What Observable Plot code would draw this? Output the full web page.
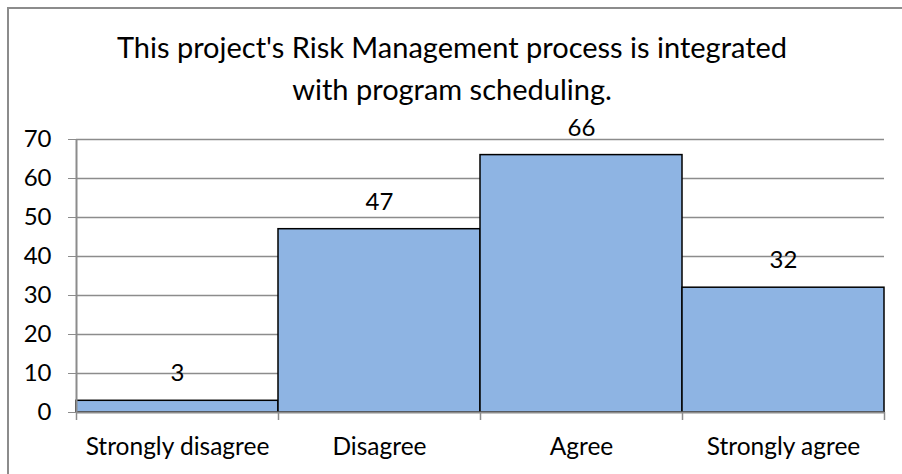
<!DOCTYPE html>
<html><head><meta charset="utf-8">
<script src="https://cdn.jsdelivr.net/npm/d3@7"></script>
<script src="https://cdn.jsdelivr.net/npm/@observablehq/plot@0.6"></script>
<style>
body{margin:0;background:#fff;}
#wrap{position:relative;width:902px;height:474px;overflow:hidden;font-family:Lato,sans-serif;}
#chart{position:absolute;left:0;top:0;}
#border{position:absolute;left:7px;top:7px;width:1000px;height:1000px;border-top:2px solid #8c8c8c;border-left:2px solid #8c8c8c;pointer-events:none;}
#title{position:absolute;left:7px;width:890px;top:26px;text-align:center;font-size:29px;line-height:42px;color:#000;}
</style></head><body>
<div id="wrap"><div id="chart"></div><div id="border"></div><div id="title"></div></div>
<script>
const titleLines = ["This project's Risk Management process is integrated", "with program scheduling."];
const categories = ["Strongly disagree", "Disagree", "Agree", "Strongly agree"];
const counts = [3, 47, 66, 32];
const yTicks = [0, 10, 20, 30, 40, 50, 60, 70];

const data = categories.map((c, i) => ({category: c, count: counts[i]}));
document.getElementById("title").innerHTML = titleLines.join("<br>");

const W = 902, H = 474, ML = 76, MR = 18, MT = 139, MB = 62;
const bw = (W - ML - MR) / categories.length;
const grid = "#8c8c8c";

const chart = Plot.plot({
  width: W, height: H,
  marginLeft: ML, marginRight: MR, marginTop: MT, marginBottom: MB,
  style: {background: "transparent", fontFamily: "Lato, sans-serif", color: "#000"},
  x: {domain: categories, padding: 0, label: null},
  y: {domain: [0, 70], label: null},
  marks: [
    Plot.ruleY(yTicks.slice(1), {stroke: grid, strokeWidth: 1.5}),
    Plot.barY(data, {x: "category", y: "count", fill: "#8EB4E3", stroke: "#000", strokeWidth: 1.5}),
    Plot.ruleY([0], {stroke: grid, strokeWidth: 2}),
    Plot.ruleX([categories[0]], {dx: -bw / 2, y1: 0, y2: 70, stroke: grid, strokeWidth: 2}),
    Plot.ruleX(categories, {dx: -bw / 2, y1: 0, y2: 0, insetBottom: -8, stroke: grid, strokeWidth: 1.5}),
    Plot.ruleX([categories[categories.length - 1]], {dx: bw / 2, y1: 0, y2: 0, insetBottom: -8, stroke: grid, strokeWidth: 1.5}),
    Plot.axisY({ticks: yTicks, tickSize: 8, tickPadding: 17, fontSize: 24, stroke: grid, fill: "#000", label: null}),
    Plot.axisX({tickSize: 0, tickPadding: 25, fontSize: 24.5, fill: "#000", label: null}),
    Plot.text(data, {x: "category", y: "count", text: d => String(d.count), dy: -27, fontSize: 24, fill: "#000"})
  ]
});
document.getElementById("chart").appendChild(chart);
</script>
</body></html>
